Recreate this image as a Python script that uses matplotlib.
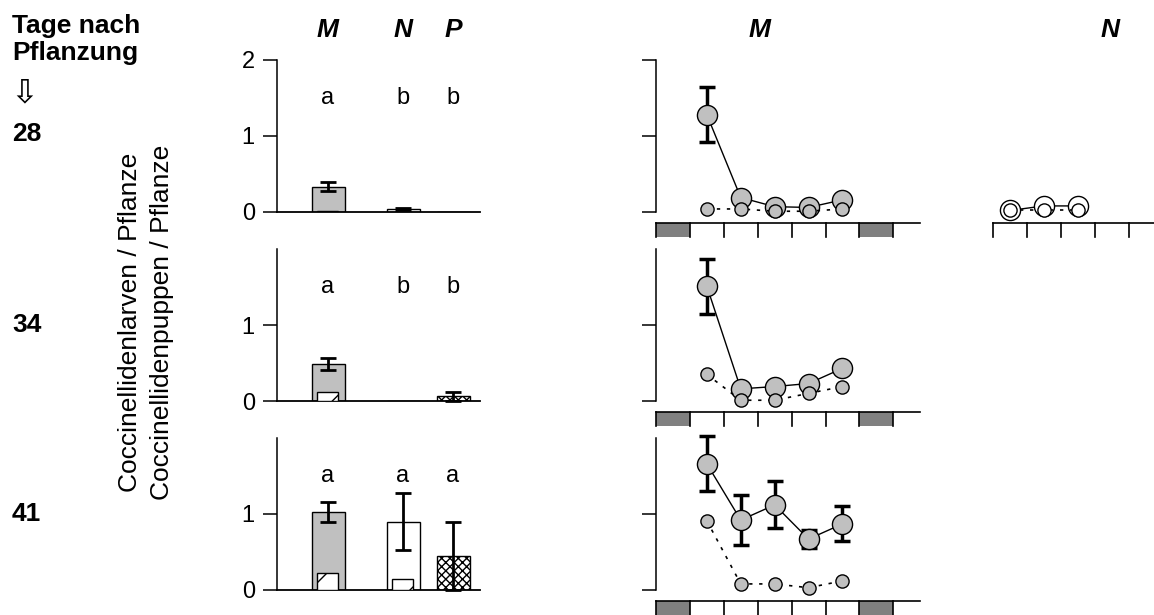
import matplotlib.pyplot as plt
from matplotlib.patches import Rectangle

plt.rcParams['font.family'] = ['Liberation Sans', 'DejaVu Sans']
plt.rcParams['hatch.linewidth'] = 1.0

W, H = 1154, 615

# data
days = ['28', '34', '41']
groups = ['M', 'N', 'P']
letters = [['a', 'b', 'b'], ['a', 'b', 'b'], ['a', 'a', 'a']]
larvae_bar = [[0.33, 0.04, 0.0], [0.49, 0.0, 0.06], [1.03, 0.90, 0.45]]
larvae_bar_err = [[0.06, 0.01, 0.0], [0.08, 0.0, 0.06], [0.13, 0.38, 0.45]]
pupae_bar = [[0.01, 0.0], [0.12, 0.0], [0.22, 0.15]]

larvae_m = [[1.28, 0.19, 0.07, 0.06, 0.16],
            [1.51, 0.16, 0.19, 0.23, 0.43],
            [1.66, 0.92, 1.12, 0.67, 0.87]]
larvae_m_err = [[0.36, 0, 0, 0, 0],
                [0.36, 0, 0, 0, 0],
                [0.36, 0.33, 0.31, 0.12, 0.23]]
pupae_m = [[0.04, 0.04, 0.01, 0.01, 0.04],
           [0.35, 0.01, 0.01, 0.10, 0.19],
           [0.91, 0.08, 0.08, 0.03, 0.12]]
larvae_n = [0.02, 0.08, 0.08]
pupae_n = [0.02, 0.02, 0.02]

fig = plt.figure(figsize=(W / 100, H / 100), dpi=100)


def px_axes(x0, ytop, x1, ybot):
    return fig.add_axes([x0 / W, (H - ybot) / H, (x1 - x0) / W, (ybot - ytop) / H])


def px_text(x, y, s, **kw):
    fig.text(x / W, 1 - y / H, s, **kw)


bar_x = [0.51, 1.26, 1.76]
bottoms = [212, 401, 590]

for i in range(3):
    yb = bottoms[i]
    ax = px_axes(277, yb - 152, 480, yb)
    ax.set_xlim(0, 2.03)
    ax.set_ylim(0, 2)
    for s in ['top', 'right']:
        ax.spines[s].set_visible(False)
    ax.spines['left'].set_linewidth(1.1)
    ax.spines['bottom'].set_linewidth(1.3)
    ax.set_xticks([])
    ax.set_yticks([0, 1, 2] if i == 0 else [0, 1])
    ax.tick_params(axis='y', length=10, width=1.1, labelsize=17, pad=6)
    # larvae bars
    ax.bar(bar_x[0], larvae_bar[i][0], 0.33, color='#c0c0c0', edgecolor='black', lw=1, zorder=2)
    ax.bar(bar_x[1], larvae_bar[i][1], 0.33, color='white', edgecolor='black', lw=1, zorder=2)
    ax.bar(bar_x[2], larvae_bar[i][2], 0.33, color='white', edgecolor='black', lw=1,
           hatch='xxxx', zorder=2)
    # pupae bars inside
    for j in range(2):
        if pupae_bar[i][j] > 0:
            ax.bar(bar_x[j] - 0.005, pupae_bar[i][j], 0.21, color='white', edgecolor='black',
                   lw=1, hatch='/', zorder=3)
    for j in range(3):
        if larvae_bar_err[i][j] > 0:
            ax.errorbar(bar_x[j], larvae_bar[i][j], yerr=larvae_bar_err[i][j], fmt='none',
                        ecolor='black', elinewidth=2, capsize=6, capthick=2, zorder=4,
                        clip_on=False)
        ax.text(bar_x[j], 1.5, letters[i][j], ha='center', va='center', fontsize=17)

# line panels
cell = 33.9
for i in range(3):
    yb = bottoms[i]
    ax = px_axes(656, yb - 152, 920, yb)
    ax.set_xlim(-0.5, -0.5 + 264 / cell)
    ax.set_ylim(0, 2)
    for s in ['top', 'right', 'bottom']:
        ax.spines[s].set_visible(False)
    ax.spines['left'].set_linewidth(1.1)
    ax.set_xticks([])
    ax.set_yticks([0, 1, 2] if i == 0 else [0, 1])
    ax.set_yticklabels([])
    ax.tick_params(axis='y', length=10, width=1.1)
    xs = [1, 2, 3, 4, 5]
    ax.errorbar(xs, larvae_m[i], yerr=larvae_m_err[i], fmt='none', ecolor='black',
                elinewidth=2.5, capsize=6, capthick=2.5, zorder=3, clip_on=False)
    ax.plot(xs, larvae_m[i], '-', color='black', lw=1, zorder=4, clip_on=False)
    ax.plot(xs, larvae_m[i], 'o', ms=14.5, mfc='#c0c0c0', mec='black', mew=1,
            zorder=5, clip_on=False)
    ax.plot(xs, pupae_m[i], ls=(0, (2, 4)), color='black', lw=1.2, zorder=6, clip_on=False)
    ax.plot(xs, pupae_m[i], 'o', ms=9.5, mfc='#c0c0c0', mec='black', mew=1,
            zorder=7, clip_on=False)
    # day strip
    top = -11 / 76
    bot = -25 / 76
    for c in [0, 6]:
        ax.add_patch(Rectangle((c - 0.5, bot), 1, top - bot, facecolor='#808080',
                               edgecolor='none', clip_on=False))
    ax.plot([-0.5, -0.5 + 264 / cell], [top, top], color='black', lw=1.2, clip_on=False)
    for c in range(8):
        ax.plot([c - 0.5, c - 0.5], [top, bot], color='black', lw=1.2, clip_on=False)

# N panel (only first date)
ax = px_axes(993, 60, 1154, 212)
ax.set_xlim(-0.5, -0.5 + 161 / cell)
ax.set_ylim(0, 2)
ax.axis('off')
xs = [0, 1, 2]
ax.plot(xs, larvae_n, '-', color='black', lw=1, zorder=4, clip_on=False)
ax.plot(xs, larvae_n, 'o', ms=14.5, mfc='white', mec='black', mew=1, zorder=5, clip_on=False)
ax.plot(xs, pupae_n, ls=(0, (2, 4)), color='black', lw=1.2, zorder=6, clip_on=False)
ax.plot(xs, pupae_n, 'o', ms=9.5, mfc='white', mec='black', mew=1, zorder=7, clip_on=False)
top = -11 / 76
bot = -25 / 76
ax.plot([-0.5, -0.5 + 161 / cell], [top, top], color='black', lw=1.2, clip_on=False)
for c in range(5):
    ax.plot([c - 0.5, c - 0.5], [top, bot], color='black', lw=1.2, clip_on=False)

# headers and side texts
for x, g in zip([328, 403, 453], groups):
    px_text(x, 30, g, ha='center', va='center', fontsize=19, fontweight='bold', style='italic')
px_text(760, 30, 'M', ha='center', va='center', fontsize=19, fontweight='bold', style='italic')
px_text(1110, 30, 'N', ha='center', va='center', fontsize=19, fontweight='bold', style='italic')

px_text(12, 26, 'Tage nach', ha='left', va='center', fontsize=19, fontweight='bold')
px_text(12, 53, 'Pflanzung', ha='left', va='center', fontsize=19, fontweight='bold')
px_text(10, 93, '\u21e9', ha='left', va='center', fontsize=24, family=['DejaVu Sans'])
for d, y in zip(days, [134, 325, 514]):
    px_text(12, y, d, ha='left', va='center', fontsize=19, fontweight='bold')

px_text(130, 322, 'Coccinellidenlarven / Pflanze', rotation=90, ha='center', va='center',
        fontsize=19)
px_text(162, 322, 'Coccinellidenpuppen / Pflanze', rotation=90, ha='center', va='center',
        fontsize=19)

fig.savefig('out.png', dpi=100)
